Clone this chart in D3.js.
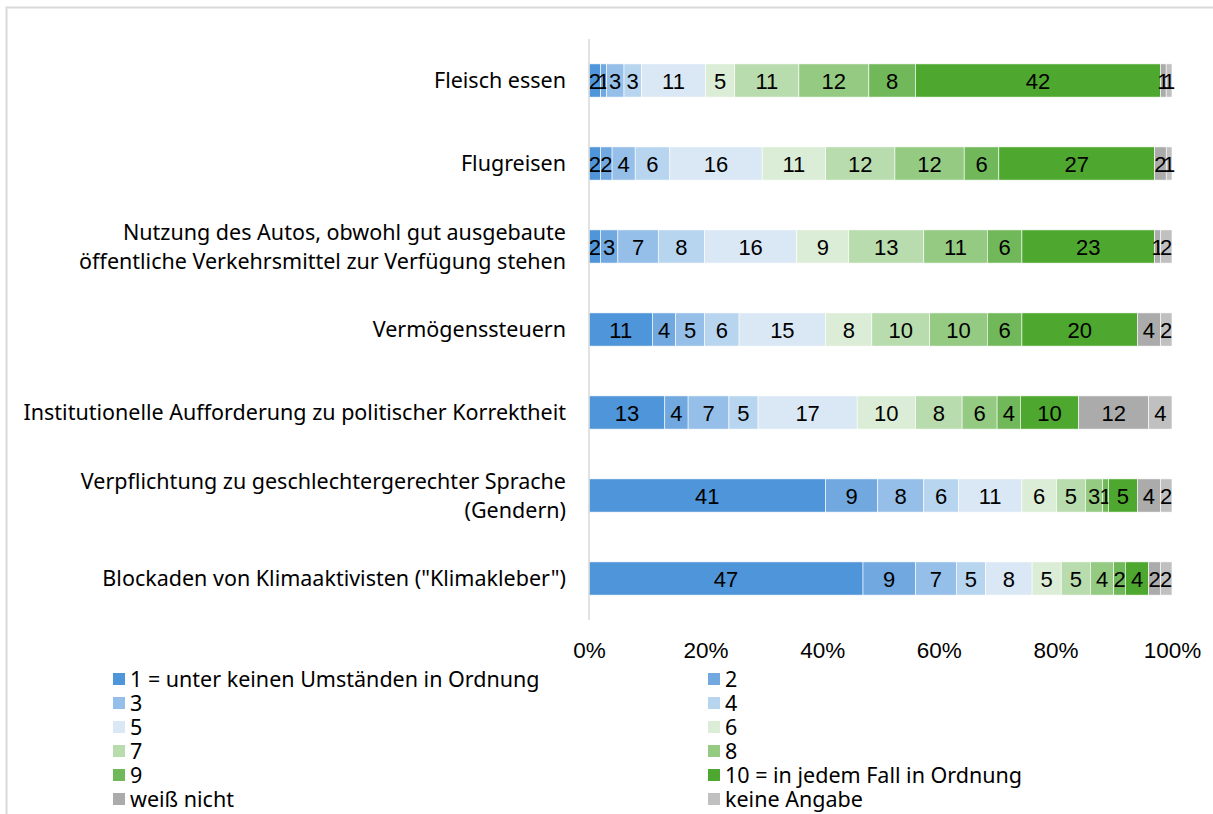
<!DOCTYPE html>
<html>
<head>
<meta charset="utf-8">
<script src="https://cdn.jsdelivr.net/npm/d3@7"></script>
<style>
	body { margin: 0; background: #fff; }
	svg { display: block; }
	.cat { font-family: "Noto Sans", sans-serif; font-size: 21.5px; fill: #000; }
	.lbl { font-family: "Liberation Sans", Arial, sans-serif; font-size: 22px; fill: #000; }
	.tick text { font-family: "Liberation Sans", Arial, sans-serif; font-size: 22.5px; fill: #000; }
	.leg { font-family: "Noto Sans", sans-serif; font-size: 21.5px; fill: #000; }
</style>
</head>
<body>
<svg id="chart" width="1213" height="814"></svg>
<script>
var categories = [
	"Fleisch essen",
	"Flugreisen",
	"Nutzung des Autos, obwohl gut ausgebaute\nöffentliche Verkehrsmittel zur Verfügung stehen",
	"Vermögenssteuern",
	"Institutionelle Aufforderung zu politischer Korrektheit",
	"Verpflichtung zu geschlechtergerechter Sprache\n(Gendern)",
	"Blockaden von Klimaaktivisten (\"Klimakleber\")"
];

var seriesNames = [
	"1 = unter keinen Umständen in Ordnung", "2", "3", "4", "5", "6",
	"7", "8", "9", "10 = in jedem Fall in Ordnung", "weiß nicht", "keine Angabe"
];

// one row per category, in series order
var shares = [
	[2, 1, 3, 3, 11, 5, 11, 12, 8, 42, 1, 1],
	[2, 2, 4, 6, 16, 11, 12, 12, 6, 27, 2, 1],
	[2, 3, 7, 8, 16, 9, 13, 11, 6, 23, 1, 2],
	[11, 4, 5, 6, 15, 8, 10, 10, 6, 20, 4, 2],
	[13, 4, 7, 5, 17, 10, 8, 6, 4, 10, 12, 4],
	[41, 9, 8, 6, 11, 6, 5, 3, 1, 5, 4, 2],
	[47, 9, 7, 5, 8, 5, 5, 4, 2, 4, 2, 2]
];

var xTicks = [0, 0.2, 0.4, 0.6, 0.8, 1];

var colors = ["#4f95d9", "#70a8df", "#95bfe8", "#b8d5f0", "#dae8f6", "#dbedd6",
	"#b8dcad", "#94ca82", "#71b85a", "#4ea72e", "#ababab", "#c0c0c0"];

var svg = d3.select("#chart");

// outer frame of the chart area
svg.append("rect")
	.attr("x", 6.5).attr("y", 7.5)
	.attr("width", 1240).attr("height", 840)
	.attr("fill", "none").attr("stroke", "#d9d9d9").attr("stroke-width", 2);

var x = d3.scaleLinear().domain([0, 1]).range([589, 1172]);
var y = d3.scaleBand().domain(categories).range([39, 620]).paddingInner(0.6).paddingOuter(0.3);
var color = d3.scaleOrdinal().domain(seriesNames).range(colors);

var rows = categories.map(function(c, i) {
	var r = { cat: c };
	seriesNames.forEach(function(s, j) { r[s] = shares[i][j]; });
	return r;
});

var stacked = d3.stack().keys(seriesNames).offset(d3.stackOffsetExpand)(rows);

var layer = svg.append("g").selectAll("g")
	.data(stacked)
	.enter().append("g")
		.attr("fill", function(d) { return color(d.key); });

layer.selectAll("rect")
	.data(function(d) { return d; })
	.enter().append("rect")
		.attr("x", function(d) { return x(d[0]); })
		.attr("y", function(d) { return y(d.data.cat); })
		.attr("width", function(d) { return x(d[1]) - x(d[0]); })
		.attr("height", y.bandwidth())
		.attr("stroke", "#fff")
		.attr("stroke-width", 0.6);

layer.selectAll("text")
	.data(function(d) { return d.map(function(p) { p.key = d.key; return p; }); })
	.enter().append("text")
		.attr("class", "lbl")
		.attr("text-anchor", "middle")
		.attr("x", function(d) { return (x(d[0]) + x(d[1])) / 2; })
		.attr("y", function(d) { return y(d.data.cat) + y.bandwidth() / 2 + 8; })
		.text(function(d) { return d.data[d.key]; });

// vertical category axis line
svg.append("line")
	.attr("x1", x(0)).attr("x2", x(0))
	.attr("y1", 39).attr("y2", 620)
	.attr("stroke", "#d9d9d9").attr("stroke-width", 1.5);

// category labels
svg.append("g").selectAll("text")
	.data(categories)
	.enter().append("text")
		.attr("class", "cat")
		.attr("text-anchor", "end")
		.each(function(d) {
			var lines = d.split("\n");
			var cy = y(d) + y.bandwidth() / 2;
			var t = d3.select(this);
			lines.forEach(function(l, i) {
				t.append("tspan")
					.attr("x", 566)
					.attr("y", cy + 7.5 + (i - (lines.length - 1) / 2) * 29)
					.text(l);
			});
		});

// x axis labels
var xAxis = d3.axisBottom(x).tickValues(xTicks).tickFormat(d3.format(".0%")).tickSize(0).tickPadding(0);
svg.append("g")
	.attr("transform", "translate(0,642)")
	.call(xAxis)
	.call(function(g) { g.select(".domain").remove(); });

// legend
var legend = svg.append("g").selectAll("g")
	.data(seriesNames)
	.enter().append("g")
		.attr("transform", function(d, i) {
			return "translate(" + (i % 2 ? 708 : 113) + "," + (679 + Math.floor(i / 2) * 24) + ")";
		});

legend.append("rect")
	.attr("x", 0).attr("y", -6)
	.attr("width", 12).attr("height", 12)
	.attr("fill", function(d) { return color(d); });

legend.append("text")
	.attr("class", "leg")
	.attr("x", 17).attr("y", 7.5)
	.text(function(d) { return d; });
</script>
</body>
</html>
